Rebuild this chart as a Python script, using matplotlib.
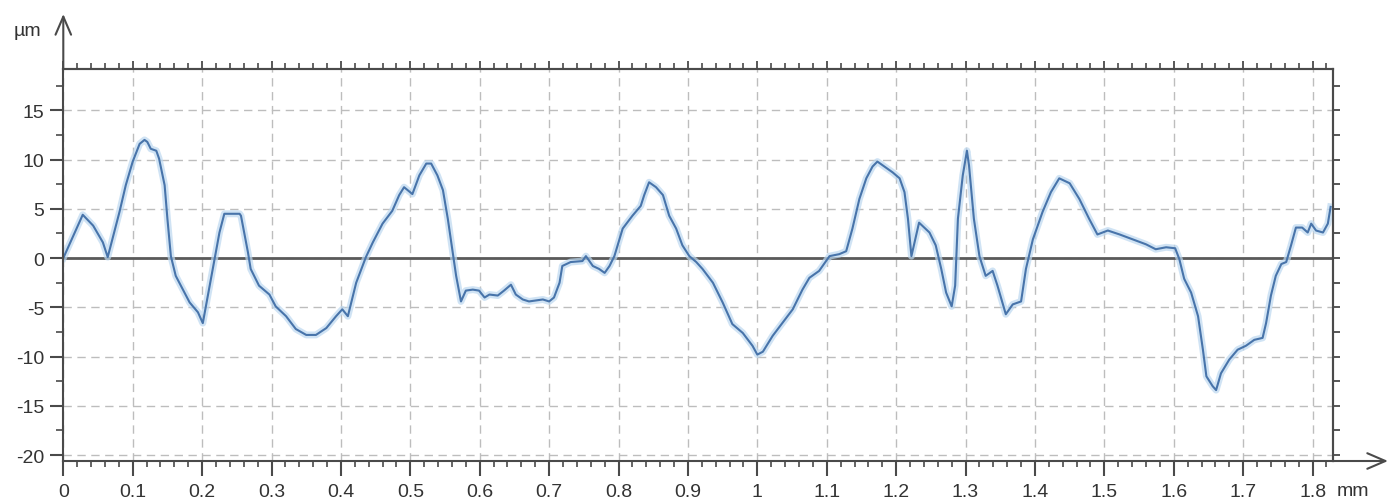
import matplotlib
matplotlib.use("Agg")
import matplotlib.pyplot as plt
from matplotlib.ticker import MultipleLocator, FuncFormatter

# profile data (x in mm, height in um)
x_mm = [0.000, 0.028, 0.043, 0.057, 0.064, 0.081, 0.090, 0.100, 0.110, 0.117, 0.121, 0.126,
        0.134, 0.138, 0.146, 0.150, 0.155, 0.162, 0.182, 0.194, 0.201, 0.218, 0.225, 0.232,
        0.254, 0.256, 0.266, 0.270, 0.282, 0.297, 0.306, 0.321, 0.335, 0.350, 0.364, 0.379,
        0.393, 0.402, 0.410,
        0.422, 0.436, 0.446, 0.460, 0.474, 0.484, 0.491, 0.503, 0.513, 0.523, 0.530, 0.539,
        0.547, 0.554, 0.561, 0.566, 0.573, 0.580, 0.590, 0.599, 0.607, 0.614, 0.626, 0.635,
        0.645, 0.652, 0.662, 0.671, 0.691, 0.700, 0.707, 0.715, 0.719, 0.731, 0.748, 0.753,
        0.763, 0.772, 0.780, 0.787, 0.794, 0.806, 0.820, 0.832,
        0.837, 0.844, 0.854, 0.864, 0.873, 0.883, 0.892, 0.902, 0.912, 0.921, 0.936, 0.950,
        0.964, 0.979, 0.993, 1.000, 1.008, 1.022, 1.036, 1.051, 1.065, 1.075, 1.089, 1.104,
        1.118, 1.128, 1.137, 1.147, 1.157, 1.166, 1.173, 1.183, 1.195, 1.205, 1.212, 1.217,
        1.222,
        1.233, 1.248, 1.257, 1.265, 1.272, 1.280, 1.285, 1.289, 1.296, 1.302, 1.305, 1.312,
        1.320, 1.329, 1.339, 1.346, 1.358, 1.368, 1.380, 1.387, 1.397, 1.411, 1.423, 1.435,
        1.450, 1.464, 1.478, 1.490, 1.505, 1.522, 1.541, 1.560, 1.574, 1.589, 1.602,
        1.608, 1.615, 1.625, 1.635, 1.642, 1.647, 1.656, 1.661, 1.668, 1.680, 1.692, 1.704,
        1.716, 1.728, 1.733, 1.740, 1.747, 1.755, 1.762, 1.769, 1.776, 1.785, 1.793, 1.798,
        1.805, 1.815, 1.822, 1.826]
y_um = [0.0, 4.4, 3.3, 1.6, 0.1, 4.7, 7.4, 9.8, 11.6, 12.0, 11.8, 11.1,
        10.9, 10.1, 7.4, 4.0, 0.2, -1.8, -4.5, -5.5, -6.6, -0.1, 2.6, 4.5,
        4.5, 4.3, 0.6, -1.1, -2.8, -3.7, -4.9, -5.9, -7.2, -7.8, -7.8, -7.1,
        -5.9, -5.2, -5.9,
        -2.5, 0.1, 1.6, 3.5, 4.8, 6.4, 7.2, 6.5, 8.4, 9.6, 9.6, 8.4,
        6.9, 4.0, 0.6, -1.8, -4.4, -3.3, -3.2, -3.3, -4.0, -3.7, -3.8, -3.3,
        -2.7, -3.7, -4.2, -4.4, -4.2, -4.4, -4.0, -2.5, -0.8, -0.4, -0.3, 0.2,
        -0.8, -1.1, -1.5, -0.8, 0.2, 3.0, 4.3, 5.3,
        6.4, 7.7, 7.2, 6.4, 4.3, 3.0, 1.3, 0.2, -0.4, -1.1, -2.5, -4.5,
        -6.7, -7.6, -8.9, -9.8, -9.5, -7.9, -6.6, -5.2, -3.2, -2.0, -1.3, 0.2,
        0.4, 0.7, 3.0, 6.0, 8.1, 9.3, 9.8, 9.3, 8.7, 8.1, 6.7, 4.0,
        0.2,
        3.6, 2.6, 1.3, -1.1, -3.5, -4.9, -2.8, 4.0, 8.4, 10.9, 9.4, 4.0,
        0.2, -1.8, -1.3, -2.8, -5.7, -4.7, -4.4, -1.1, 1.9, 4.7, 6.7, 8.1,
        7.6, 6.0, 4.0, 2.4, 2.8, 2.4, 1.9, 1.4, 0.9, 1.1, 1.0,
        -0.1, -2.1, -3.5, -5.9, -9.3, -12.0, -13.0, -13.4, -11.7, -10.3, -9.3, -8.9,
        -8.3, -8.1, -6.6, -3.8, -1.8, -0.6, -0.4, 1.3, 3.1, 3.1, 2.6, 3.5,
        2.8, 2.6, 3.5, 5.2]

y_ticks = [-20, -15, -10, -5, 0, 5, 10, 15]

plt.rcParams['font.family'] = ['Liberation Sans', 'DejaVu Sans']
plt.rcParams['axes.unicode_minus'] = False

W, H = 1397, 502
fig = plt.figure(figsize=(W / 100, H / 100), dpi=100)
ax_l, ax_r, ax_b, ax_t = 63.3, 1332.7, 462, 70
ax = fig.add_axes([ax_l / W, 1 - ax_b / H, (ax_r - ax_l) / W, (ax_b - ax_t) / H])

axis_col = '#4a4a4a'
txt_col = '#333333'
fs = 14

# glow + line
ax.plot(x_mm, y_um, color='#bcd8f0', lw=5, alpha=0.7, solid_joinstyle='round')
ax.plot(x_mm, y_um, color='#4874aa', lw=1.5)
ax.axhline(0, color='#5a5a5a', lw=2, zorder=1)

ax.set_xlim(0, 1.829)
ax.set_ylim(-20.6, 19.2)

ax.xaxis.set_major_locator(MultipleLocator(0.1))
ax.xaxis.set_minor_locator(MultipleLocator(0.02))
ax.xaxis.set_major_formatter(FuncFormatter(lambda v, p: '%g' % round(v, 2)))
ax.set_yticks(y_ticks)
ax.yaxis.set_minor_locator(MultipleLocator(2.5))

ax.grid(True, which='major', color='#bdbdbd', ls=(0, (6, 4)), lw=1)
ax.set_axisbelow(True)

ax.tick_params(axis='x', which='major', direction='out', length=10.5, width=1.5,
               color=axis_col, labelsize=fs, labelcolor=txt_col, pad=5)
ax.tick_params(axis='x', which='minor', direction='out', length=4.5, width=1.2, color=axis_col)
ax.tick_params(axis='y', which='major', direction='out', length=9.5, width=1.5,
               color=axis_col, labelsize=fs, labelcolor=txt_col, pad=4)
ax.tick_params(axis='y', which='minor', direction='out', length=5, width=1.2, color=axis_col)

for s in ax.spines.values():
    s.set_color(axis_col)
    s.set_linewidth(1.5)

# top and right ticks without labels
top = ax.secondary_xaxis('top')
top.xaxis.set_major_locator(MultipleLocator(0.1))
top.xaxis.set_minor_locator(MultipleLocator(0.02))
top.tick_params(which='major', direction='out', length=6, width=1.3, color=axis_col, labeltop=False)
top.tick_params(which='minor', direction='out', length=4, width=1.2, color=axis_col)
top.spines['top'].set_color(axis_col)
top.spines['top'].set_linewidth(1.5)

right = ax.secondary_yaxis('right')
right.yaxis.set_major_locator(MultipleLocator(2.5))
right.yaxis.set_minor_locator(MultipleLocator(2.5))
right.tick_params(which='both', direction='out', length=5, width=1.3, color=axis_col, labelright=False)
right.spines['right'].set_color(axis_col)
right.spines['right'].set_linewidth(1.5)

# axis arrows
arrow = dict(arrowstyle='->,head_length=0.65,head_width=0.28', lw=1.5, color=axis_col,
             mutation_scale=20, shrinkA=0, shrinkB=0)
ax.annotate('', xy=(ax_l / W, 1 - 15 / H), xytext=(ax_l / W, 1 - ax_t / H),
            xycoords='figure fraction', textcoords='figure fraction', arrowprops=arrow)
ax.annotate('', xy=(1388 / W, 1 - ax_b / H), xytext=(ax_r / W, 1 - ax_b / H),
            xycoords='figure fraction', textcoords='figure fraction', arrowprops=arrow)

fig.text(27 / W, 1 - 32 / H, 'µm', fontsize=fs, color=txt_col, ha='center', va='center')
fig.text(1353 / W, 1 - 492 / H, 'mm', fontsize=fs, color=txt_col, ha='center', va='center')

fig.savefig('out.png', dpi=100)
